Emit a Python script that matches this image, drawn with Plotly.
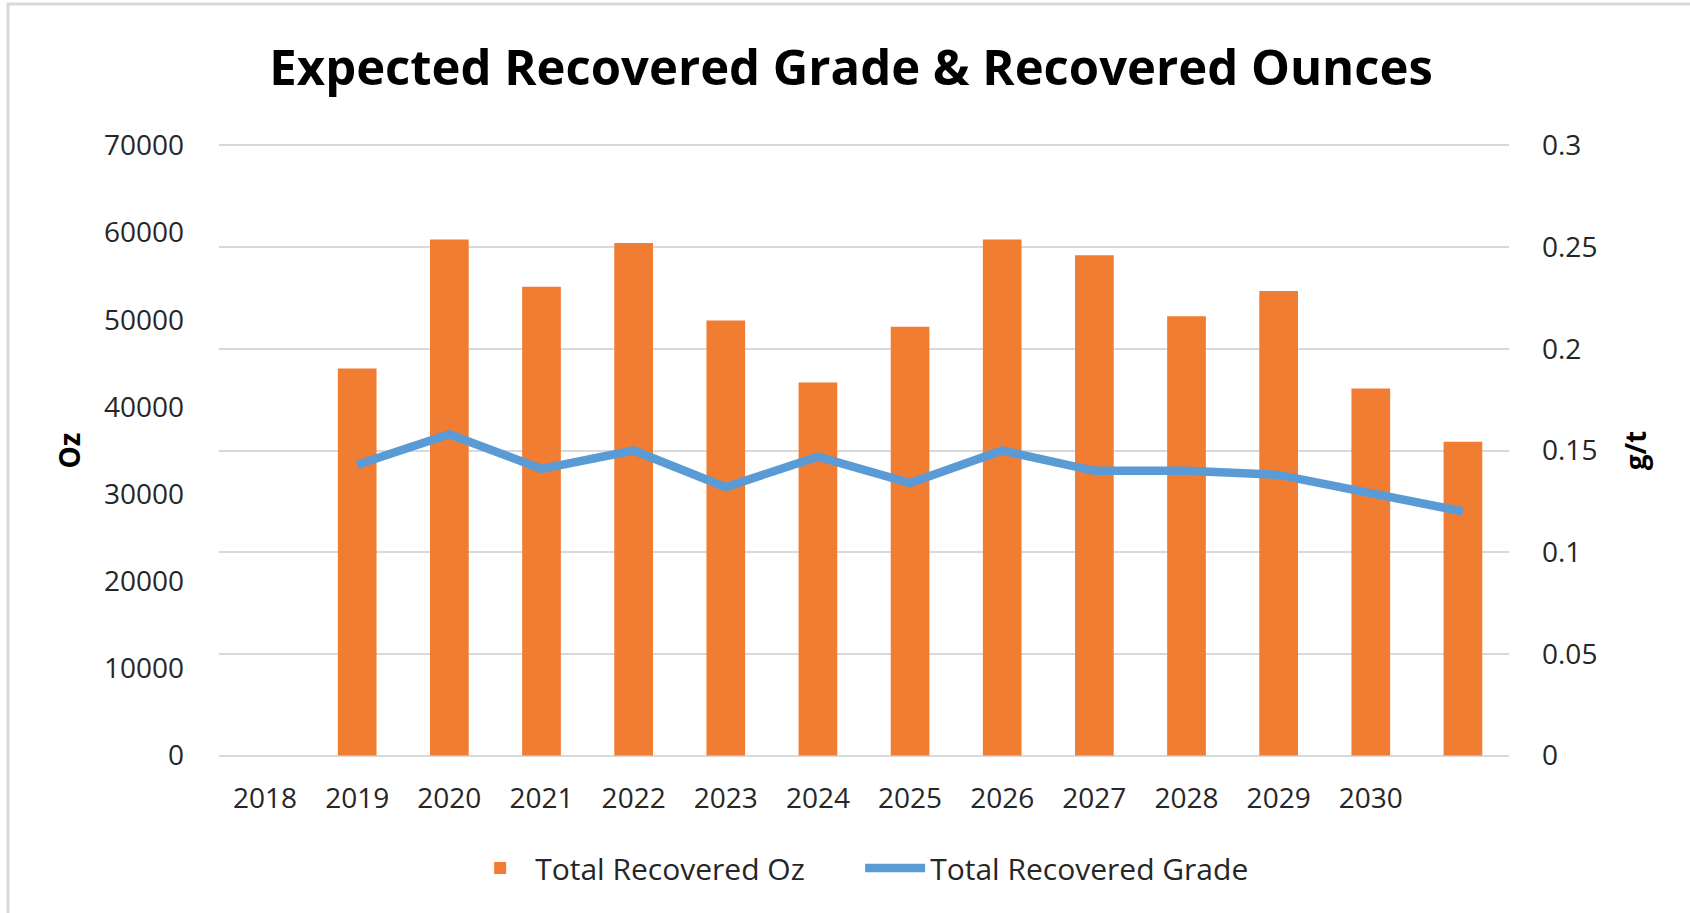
import plotly.graph_objects as go

# ---- data ----
years = [2018, 2019, 2020, 2021, 2022, 2023, 2024, 2025, 2026, 2027, 2028, 2029, 2030, 2031]
tick_years = [2018, 2019, 2020, 2021, 2022, 2023, 2024, 2025, 2026, 2027, 2028, 2029, 2030]
tick_labels = ["2018", "2019", "2020", "2021", "2022", "2023", "2024", "2025", "2026",
               "2027", "2028", "2029", "2030"]
recovered_oz = [None, 44400, 59200, 53800, 58800, 49900, 42800, 49200, 59200, 57400,
                50400, 53300, 42100, 36000]
recovered_grade = [None, 0.143, 0.158, 0.141, 0.150, 0.132, 0.147, 0.134, 0.150, 0.140,
                   0.140, 0.138, 0.129, 0.120]

FONT = "Open Sans"
EPS = 0.0007  # tiny range padding so edge gridlines are drawn

fig = go.Figure()
fig.add_trace(go.Bar(
    x=years, y=recovered_oz, name="Total Recovered Oz",
    marker=dict(color="#F17D32", line=dict(width=0)),
    yaxis="y",
))
fig.add_trace(go.Scatter(
    x=years, y=recovered_grade, name="Total Recovered Grade",
    mode="lines", line=dict(color="#5B9BD5", width=8.5),
    yaxis="y2", connectgaps=False,
))

fig.update_layout(
    width=1690, height=913,
    paper_bgcolor="white", plot_bgcolor="white",
    margin=dict(l=219, r=181, t=144, b=156, autoexpand=False),
    font=dict(family=FONT, size=28, color="#262626"),
    title=dict(text="<b>Expected Recovered Grade & Recovered Ounces</b>",
               x=0.49, xref="paper", xanchor="center",
               y=1 - 68 / 913, yref="container", yanchor="middle",
               font=dict(family=FONT, size=49, color="black")),
    bargap=0.58,
    showlegend=True,
    legend=dict(orientation="h", x=0.497, xanchor="center", y=-0.181, yanchor="middle",
                font=dict(family=FONT, size=30, color="#262626"),
                itemwidth=60, entrywidth=320, traceorder="normal"),
    xaxis=dict(range=[2017.5, 2031.5], tickmode="array", tickvals=tick_years,
               ticktext=tick_labels, showgrid=False, zeroline=False, showline=False,
               ticks="", ticklabelstandoff=22, fixedrange=True),
    yaxis=dict(range=[-70000 * EPS / 0.3, 70000 + 70000 * EPS / 0.3], dtick=10000,
               tick0=0, tickformat="d",
               showgrid=False, zeroline=False,
               showline=False, ticks="", ticklabelstandoff=34,
               title=dict(text="<b>Oz</b>", standoff=15, font=dict(size=28, color="black"))),
    yaxis2=dict(range=[-EPS, 0.3 + EPS], dtick=0.05, tick0=0, overlaying="y", side="right",
                showgrid=True, gridcolor="#D9D9D9", gridwidth=2, zeroline=False,
                showline=False, ticks="", ticklabelstandoff=32,
                title=dict(text="<b>g/t</b>", standoff=30, font=dict(size=28, color="black"))),
    shapes=[dict(type="rect", xref="paper", yref="paper",
                 x0=(8 - 219) / 1290, x1=(1700 - 219) / 1290,
                 y0=(757 - 920) / 613, y1=(757 - 4) / 613,
                 line=dict(color="#D9D9D9", width=3), fillcolor="rgba(0,0,0,0)",
                 layer="below")],
)

fig.write_html("out.html", config={"displayModeBar": False},
               post_script="document.body.style.margin='0px';")
